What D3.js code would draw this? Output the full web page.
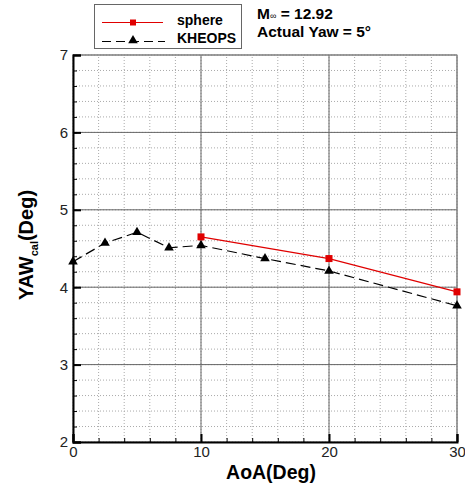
<!DOCTYPE html>
<html>
<head>
<meta charset="utf-8">
<script src="https://cdn.jsdelivr.net/npm/d3@7"></script>
<style>
body { margin: 0; background: #fff; }
text { font-family: "Liberation Sans", Arial, sans-serif; }
</style>
</head>
<body>
<script>
"use strict";
const aoaKheops = [0, 2.5, 5, 7.5, 10, 15, 20, 30];
const yawKheops = [4.33, 4.57, 4.71, 4.51, 4.54, 4.37, 4.21, 3.76];
const aoaSphere = [10, 20, 30];
const yawSphere = [4.65, 4.37, 3.94];
const xTicks = [0, 10, 20, 30];
const yTicks = [2, 3, 4, 5, 6, 7];

const w = 465, h = 488;
const x = d3.scaleLinear().domain([0, 30]).range([73, 457]);
const y = d3.scaleLinear().domain([2, 7]).range([442, 55]);

const svg = d3.select("body").append("svg").attr("width", w).attr("height", h);

// minor grid
const xMinor = d3.range(0, 30.01, 2);
const yMinor = d3.range(2, 7.001, 0.2);
svg.append("g").selectAll("line").data(xMinor).enter().append("line")
	.attr("x1", d => x(d)).attr("x2", d => x(d)).attr("y1", y(2)).attr("y2", y(7))
	.attr("stroke", "#aaa").attr("stroke-width", 1).attr("stroke-dasharray", "1,2");
svg.append("g").selectAll("line").data(yMinor).enter().append("line")
	.attr("y1", d => y(d)).attr("y2", d => y(d)).attr("x1", x(0)).attr("x2", x(30))
	.attr("stroke", "#aaa").attr("stroke-width", 1).attr("stroke-dasharray", "1,2");

// major grid
svg.append("g").selectAll("line").data(xTicks.slice(1)).enter().append("line")
	.attr("x1", d => x(d)).attr("x2", d => x(d)).attr("y1", y(2)).attr("y2", y(7))
	.attr("stroke", "#666").attr("stroke-width", 1);
svg.append("g").selectAll("line").data(yTicks.slice(1)).enter().append("line")
	.attr("y1", d => y(d)).attr("y2", d => y(d)).attr("x1", x(0)).attr("x2", x(30))
	.attr("stroke", "#666").attr("stroke-width", 1);

// frame
svg.append("rect").attr("x", x(0)).attr("y", y(7)).attr("width", x(30) - x(0)).attr("height", y(2) - y(7))
	.attr("fill", "none").attr("stroke", "#888").attr("stroke-width", 1);

// axes
const xAxis = d3.axisBottom(x).tickValues(xTicks).tickSize(-8).tickPadding(4).tickFormat(d3.format("d"));
const yAxis = d3.axisLeft(y).tickValues(yTicks).tickSize(-8).tickPadding(5).tickFormat(d3.format("d"));
const gx = svg.append("g").attr("transform", "translate(0," + y(2) + ")").call(xAxis);
const gy = svg.append("g").attr("transform", "translate(" + x(0) + ",0)").call(yAxis);
[gx, gy].forEach(g => {
	g.select(".domain").attr("stroke", "#000").attr("stroke-width", 2);
	g.selectAll(".tick line").attr("stroke", "#000").attr("stroke-width", 2);
	g.selectAll(".tick text").attr("font-size", 15).attr("fill", "#222");
});
svg.append("g").attr("transform", "translate(0," + y(2) + ")")
	.call(d3.axisBottom(x).tickValues(xMinor).tickSize(-4).tickFormat(""))
	.call(g => g.select(".domain").remove())
	.selectAll("line").attr("stroke", "#000");
svg.append("g").attr("transform", "translate(" + x(0) + ",0)")
	.call(d3.axisLeft(y).tickValues(yMinor).tickSize(-4).tickFormat(""))
	.call(g => g.select(".domain").remove())
	.selectAll("line").attr("stroke", "#000");

// series
const kheops = aoaKheops.map((a, i) => [a, yawKheops[i]]);
const sphere = aoaSphere.map((a, i) => [a, yawSphere[i]]);
const line = d3.line().x(d => x(d[0])).y(d => y(d[1]));
svg.append("path").datum(kheops).attr("d", line).attr("fill", "none")
	.attr("stroke", "#000").attr("stroke-width", 1.2).attr("stroke-dasharray", "10,5");
svg.append("path").datum(sphere).attr("d", line).attr("fill", "none")
	.attr("stroke", "#e00000").attr("stroke-width", 1.2);
const tri = d3.symbol().type(d3.symbolTriangle).size(40);
svg.append("g").selectAll("path").data(kheops).enter().append("path")
	.attr("d", tri).attr("transform", d => "translate(" + x(d[0]) + "," + y(d[1]) + ")").attr("fill", "#000");
svg.append("g").selectAll("rect").data(sphere).enter().append("rect")
	.attr("x", d => x(d[0]) - 3.5).attr("y", d => y(d[1]) - 3.5).attr("width", 7).attr("height", 7).attr("fill", "#e00000");

// legend
const lg = svg.append("g");
lg.append("rect").attr("x", 94.5).attr("y", 4.5).attr("width", 147).attr("height", 44)
	.attr("fill", "#fff").attr("stroke", "#666");
lg.append("line").attr("x1", 102).attr("x2", 163).attr("y1", 22.5).attr("y2", 22.5).attr("stroke", "#e00000").attr("stroke-width", 1.2);
lg.append("rect").attr("x", 130).attr("y", 19.5).attr("width", 6).attr("height", 6).attr("fill", "#e00000");
lg.append("line").attr("x1", 102).attr("x2", 165).attr("y1", 41.5).attr("y2", 41.5).attr("stroke", "#000").attr("stroke-width", 1.2).attr("stroke-dasharray", "9,5");
lg.append("path").attr("d", tri).attr("transform", "translate(133,40.5)").attr("fill", "#000");
lg.append("text").attr("x", 177).attr("y", 25).attr("font-size", 14).attr("font-weight", "bold").text("sphere");
lg.append("text").attr("x", 177).attr("y", 43).attr("font-size", 14).attr("font-weight", "bold").text("KHEOPS");

const ann = svg.append("g").attr("font-size", 15.5).attr("font-weight", "bold");
const t1 = ann.append("text").attr("x", 257).attr("y", 19);
t1.append("tspan").text("M");
t1.append("tspan").attr("font-size", 9).attr("font-weight", "normal").text("∞");
t1.append("tspan").text(" = 12.92");
ann.append("text").attr("x", 257).attr("y", 37).text("Actual Yaw = 5°");

// axis titles
svg.append("text").attr("x", 271).attr("y", 479).attr("text-anchor", "middle")
	.attr("font-size", 19.5).attr("font-weight", "bold").text("AoA(Deg)");
const yt = svg.append("text").attr("transform", "translate(33,245) rotate(-90)").attr("text-anchor", "middle")
	.attr("font-size", 20).attr("font-weight", "bold");
yt.append("tspan").text("YAW");
yt.append("tspan").attr("font-size", 11).attr("dy", 5).text("cal");
yt.append("tspan").attr("dy", -5).text("(Deg)");
</script>
</body>
</html>
